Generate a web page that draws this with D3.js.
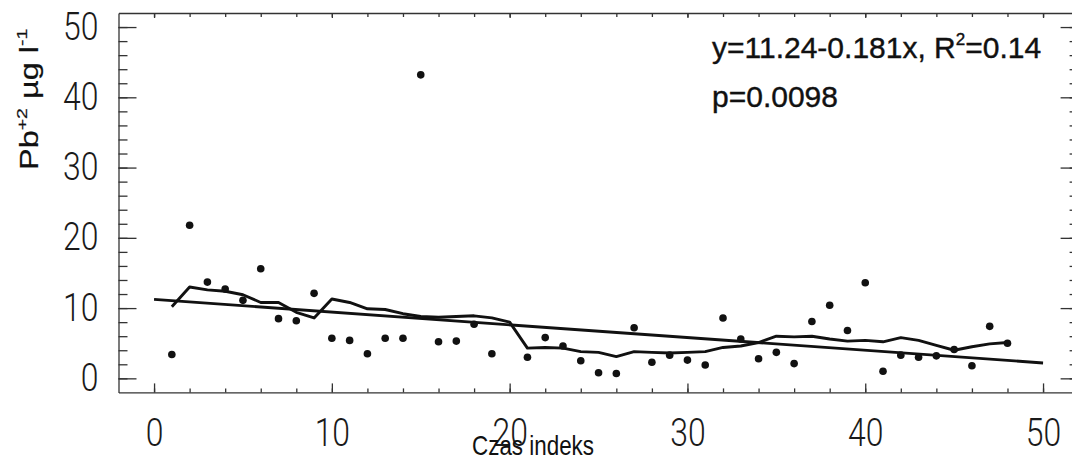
<!DOCTYPE html>
<html>
<head>
<meta charset="utf-8">
<script src="https://cdn.jsdelivr.net/npm/d3@7"></script>
<style>
  html, body { margin: 0; padding: 0; background: #fff; overflow: hidden; }
  svg { display: block; }
  .tick text { font-family: Roboto, "Liberation Sans", sans-serif; font-weight: 300; font-size: 38px; fill: #1a1a1a; }
  .axis path, .axis line { stroke: #333; stroke-width: 1.3; }
</style>
</head>
<body>
<svg id="chart" width="1072" height="458"></svg>
<script>
// Time index of each lead sample
const sampleIndex = [1, 2, 3, 4, 5, 6, 7, 8, 9, 10, 11, 12, 13, 14, 15, 16, 17, 18, 19,
  21, 22, 23, 24, 25, 26, 27, 28, 29, 30, 31, 32, 33, 34, 35, 36, 37, 38, 39, 40,
  41, 42, 43, 44, 45, 46, 47, 48];
// Pb+2 concentration, µg/l
const leadValues = [3.4, 21.8, 13.7, 12.7, 11.1, 15.6, 8.5, 8.2, 12.1, 5.7, 5.4, 3.5, 5.7, 5.7, 43.2, 5.2, 5.3, 7.7, 3.5,
  3.0, 5.8, 4.6, 2.5, 0.8, 0.7, 7.2, 2.3, 3.3, 2.6, 1.9, 8.6, 5.6, 2.8, 3.7, 2.1, 8.1, 10.4, 6.8, 13.6,
  1.0, 3.3, 3.0, 3.2, 4.1, 1.8, 7.4, 5.0];
// Running mean of the series
const smoothIndex = d3.range(1, 49);
const smoothValues = [10.2, 13.0, 12.6, 12.4, 11.9, 10.8, 10.8, 9.4, 8.6, 11.3, 10.8, 9.9, 9.8, 9.2, 8.8, 8.7,
  8.8, 8.9, 8.6, 8.0, 4.3, 4.4, 4.3, 3.8, 3.7, 3.1, 3.8, 3.7, 3.6, 3.7, 3.8, 4.4, 4.6, 5.1,
  6.0, 5.9, 6.0, 5.6, 5.3, 5.4, 5.2, 5.8, 5.4, 4.7, 4.0, 4.5, 4.9, 5.1];
// Linear trend y = a + b*x over the index range
const trendCoef = [11.24, -0.181];
const trendRange = [0, 50];
const statLines = ["y=11.24-0.181x,  R", "=0.14", "p=0.0098"];
const xTickLabels = [0, 10, 20, 30, 40, 50];
const yTickLabels = [0, 10, 20, 30, 40, 50];

const svg = d3.select("#chart");
const x = d3.scaleLinear().domain([-2, 52]).range([118.5, 1078.6]);
const y = d3.scaleLinear().domain([-2, 52]).range([392.4, 13]);
const minorTicks = d3.range(0, 51, 2);
const squeeze = 0.84;   // narrow the tick digits horizontally

// frame: bottom / left with labels, top / right plain
const gBottom = svg.append("g").attr("class", "axis").attr("transform", `translate(0,${y(-2)})`);
gBottom.call(d3.axisBottom(x).tickValues(minorTicks).tickSizeInner(-4).tickSizeOuter(0).tickFormat(""));
gBottom.append("g").call(d3.axisBottom(x).tickValues(xTickLabels).tickSizeInner(-9).tickSizeOuter(0).tickPadding(27))
  .call(g => g.select(".domain").remove())
  .call(g => g.selectAll(".tick text").attr("transform", `scale(${squeeze},1)`));

const gLeft = svg.append("g").attr("class", "axis").attr("transform", `translate(${x(-2)},0)`);
gLeft.call(d3.axisLeft(y).tickValues(minorTicks).tickSizeInner(-9).tickSizeOuter(0).tickFormat(""));
gLeft.append("g").call(d3.axisLeft(y).tickValues(yTickLabels).tickSizeInner(-18).tickSizeOuter(0).tickPadding(20))
  .call(g => g.select(".domain").remove())
  .call(g => g.selectAll(".tick text").attr("x", -20 / squeeze).attr("transform", `scale(${squeeze},1)`));

const gTop = svg.append("g").attr("class", "axis").attr("transform", `translate(0,${y(52)})`);
gTop.call(d3.axisTop(x).tickValues(minorTicks).tickSizeInner(-4).tickSizeOuter(0).tickFormat(""));
gTop.append("g").call(d3.axisTop(x).tickValues(xTickLabels).tickSizeInner(-5).tickSizeOuter(0).tickFormat(""))
  .call(g => g.select(".domain").remove());

// right side: only the inward ticks fall inside the page
const gRight = svg.append("g").attr("class", "axis").attr("transform", `translate(${x(52)},0)`);
gRight.call(d3.axisRight(y).tickValues(minorTicks).tickSizeInner(-9).tickSizeOuter(0).tickFormat(""))
  .call(g => g.select(".domain").remove());
gRight.append("g").call(d3.axisRight(y).tickValues(yTickLabels).tickSizeInner(-18).tickSizeOuter(0).tickFormat(""))
  .call(g => g.select(".domain").remove());

// trend line
const trendPts = trendRange.map(t => [t, trendCoef[0] + trendCoef[1] * t]);
svg.append("path")
  .attr("d", d3.line().x(d => x(d[0])).y(d => y(d[1]))(trendPts))
  .attr("fill", "none").attr("stroke", "#111").attr("stroke-width", 2.9);

// running mean
svg.append("path")
  .attr("d", d3.line().x((d, i) => x(smoothIndex[i])).y(d => y(d))(smoothValues))
  .attr("fill", "none").attr("stroke", "#111").attr("stroke-width", 2.9)
  .attr("stroke-linejoin", "round");

// samples
svg.append("g").selectAll("circle")
  .data(leadValues)
  .join("circle")
  .attr("cx", (d, i) => x(sampleIndex[i]))
  .attr("cy", d => y(d))
  .attr("r", 3.8)
  .attr("fill", "#111");

// regression statistics
const stat = svg.append("g")
  .attr("font-family", "'Liberation Sans', Arial, sans-serif")
  .attr("font-size", 30)
  .attr("fill", "#111")
  .attr("stroke", "#111").attr("stroke-width", 0.4);
const t1 = stat.append("text").attr("x", 712).attr("y", 58);
t1.append("tspan").text(statLines[0]);
t1.append("tspan").attr("font-size", 17).attr("dy", -13).text("2");
t1.append("tspan").attr("dy", 13).text(statLines[1]);
stat.append("text").attr("x", 712).attr("y", 107).text(statLines[2]);

// axis titles
svg.append("text")
  .attr("transform", "translate(533,455) scale(0.83,1)")
  .attr("text-anchor", "middle")
  .attr("font-family", "'Liberation Sans', Arial, sans-serif")
  .attr("font-size", 27)
  .attr("fill", "#111")
  .text("Czas indeks");

const yTitle = svg.append("text")
  .attr("transform", "translate(38,170) rotate(-90) scale(1.3,1)")
  .attr("font-family", "'Liberation Sans', Arial, sans-serif")
  .attr("font-size", 25)
  .attr("fill", "#111")
  .attr("stroke", "#111").attr("stroke-width", 0.2);
yTitle.append("tspan").text("Pb");
yTitle.append("tspan").attr("font-size", 15).attr("dy", -11).text("+2");
yTitle.append("tspan").attr("dy", 11).text("  µg  l");
yTitle.append("tspan").attr("font-size", 15).attr("dy", -11).text("-1");
</script>
</body>
</html>
